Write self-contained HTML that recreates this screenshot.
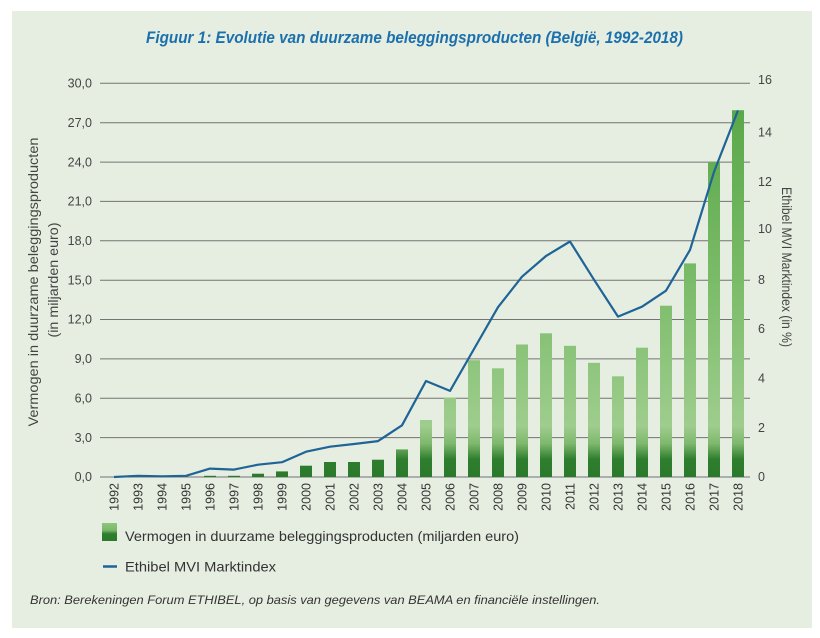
<!DOCTYPE html>
<html>
<head>
<meta charset="utf-8">
<style>
html,body{margin:0;padding:0;background:#ffffff;}
svg{display:block;}
text{font-family:"Liberation Sans",sans-serif;}
</style>
</head>
<body>
<svg width="820" height="638" viewBox="0 0 820 638" xmlns="http://www.w3.org/2000/svg">
<defs>
<linearGradient id="barg" gradientUnits="userSpaceOnUse" x1="0" y1="83" x2="0" y2="477">
<stop offset="0" stop-color="#55a545"/>
<stop offset="0.5" stop-color="#7abb68"/>
<stop offset="0.87" stop-color="#9ecd8d"/>
<stop offset="0.915" stop-color="#7fb86e"/>
<stop offset="0.955" stop-color="#2f7e2f"/>
<stop offset="1" stop-color="#2b792b"/>
</linearGradient>
<linearGradient id="legg" x1="0" y1="0" x2="0" y2="1">
<stop offset="0" stop-color="#8fc57d"/>
<stop offset="0.4" stop-color="#7ab868"/>
<stop offset="0.6" stop-color="#2f7e2f"/>
<stop offset="1" stop-color="#2b792b"/>
</linearGradient>
</defs>
<rect x="12" y="11" width="800" height="617" fill="#e6eee1"/>

<!-- Title -->
<text x="146" y="43" font-size="17" font-weight="bold" font-style="italic" fill="#1c70ad" textLength="537" lengthAdjust="spacingAndGlyphs">Figuur 1: Evolutie van duurzame beleggingsproducten (België, 1992-2018)</text>

<!-- gridlines -->
<g stroke="#737373" stroke-width="1">
<line x1="100" y1="83.3" x2="750" y2="83.3"/>
<line x1="100" y1="122.7" x2="750" y2="122.7"/>
<line x1="100" y1="162.1" x2="750" y2="162.1"/>
<line x1="100" y1="201.4" x2="750" y2="201.4"/>
<line x1="100" y1="240.8" x2="750" y2="240.8"/>
<line x1="100" y1="280.2" x2="750" y2="280.2"/>
<line x1="100" y1="319.5" x2="750" y2="319.5"/>
<line x1="100" y1="358.9" x2="750" y2="358.9"/>
<line x1="100" y1="398.3" x2="750" y2="398.3"/>
<line x1="100" y1="437.6" x2="750" y2="437.6"/>
<line x1="100" y1="477" x2="750" y2="477"/>
</g>

<!-- left tick labels -->
<g font-size="12.5" fill="#444" text-anchor="end">
<text x="92" y="87.5">30,0</text>
<text x="92" y="126.9">27,0</text>
<text x="92" y="166.3">24,0</text>
<text x="92" y="205.6">21,0</text>
<text x="92" y="245">18,0</text>
<text x="92" y="284.4">15,0</text>
<text x="92" y="323.7">12,0</text>
<text x="92" y="363.1">9,0</text>
<text x="92" y="402.5">6,0</text>
<text x="92" y="441.8">3,0</text>
<text x="92" y="481.2">0,0</text>
</g>

<!-- right tick labels -->
<g font-size="12.5" fill="#444" text-anchor="start">
<text x="758" y="84">16</text>
<text x="758" y="136.6">14</text>
<text x="758" y="185.8">12</text>
<text x="758" y="233">10</text>
<text x="758" y="284">8</text>
<text x="758" y="333">6</text>
<text x="758" y="382.6">4</text>
<text x="758" y="431.8">2</text>
<text x="758" y="481">0</text>
</g>

<!-- bars -->
<g fill="url(#barg)">
<rect x="204" y="475.8" width="12" height="1.2"/>
<rect x="228" y="475.8" width="12" height="1.2"/>
<rect x="252" y="473.7" width="12" height="3.3"/>
<rect x="276" y="471.4" width="12" height="5.6"/>
<rect x="300" y="465.7" width="12" height="11.3"/>
<rect x="324" y="462" width="12" height="15"/>
<rect x="348" y="462" width="12" height="15"/>
<rect x="372" y="459.7" width="12" height="17.3"/>
<rect x="396" y="449.4" width="12" height="27.6"/>
<rect x="420" y="420" width="12" height="57"/>
<rect x="444" y="397.6" width="12" height="79.4"/>
<rect x="468" y="360.2" width="12" height="116.8"/>
<rect x="492" y="368.3" width="12" height="108.7"/>
<rect x="516" y="344.5" width="12" height="132.5"/>
<rect x="540" y="333.3" width="12" height="143.7"/>
<rect x="564" y="345.8" width="12" height="131.2"/>
<rect x="588" y="362.8" width="12" height="114.2"/>
<rect x="612" y="376.3" width="12" height="100.7"/>
<rect x="636" y="347.7" width="12" height="129.3"/>
<rect x="660" y="305.7" width="12" height="171.3"/>
<rect x="684" y="263.4" width="12" height="213.6"/>
<rect x="708" y="162" width="12" height="315"/>
<rect x="732" y="110.2" width="12" height="366.8"/>
</g>

<!-- line -->
<polyline fill="none" stroke="#1f6496" stroke-width="2.2" stroke-linejoin="round"
points="114,477 138,475.8 162,476.3 186,475.8 210,468.6 234,469.6 258,464.7 282,462.2 306,451.7 330,446.7 354,444 378,441.1 402,425.3 426,381 450,390.9 474,349 498,307.2 522,276.7 546,256 570,241.5 594,279.7 618,316.6 642,306.7 666,290.7 690,249.9 714,171.9 738,110.4"/>

<!-- year labels -->
<g font-size="12.5" fill="#333" text-anchor="end">
<text transform="translate(114,483) rotate(-90)" dy="0.36em">1992</text>
<text transform="translate(138,483) rotate(-90)" dy="0.36em">1993</text>
<text transform="translate(162,483) rotate(-90)" dy="0.36em">1994</text>
<text transform="translate(186,483) rotate(-90)" dy="0.36em">1995</text>
<text transform="translate(210,483) rotate(-90)" dy="0.36em">1996</text>
<text transform="translate(234,483) rotate(-90)" dy="0.36em">1997</text>
<text transform="translate(258,483) rotate(-90)" dy="0.36em">1998</text>
<text transform="translate(282,483) rotate(-90)" dy="0.36em">1999</text>
<text transform="translate(306,483) rotate(-90)" dy="0.36em">2000</text>
<text transform="translate(330,483) rotate(-90)" dy="0.36em">2001</text>
<text transform="translate(354,483) rotate(-90)" dy="0.36em">2002</text>
<text transform="translate(378,483) rotate(-90)" dy="0.36em">2003</text>
<text transform="translate(402,483) rotate(-90)" dy="0.36em">2004</text>
<text transform="translate(426,483) rotate(-90)" dy="0.36em">2005</text>
<text transform="translate(450,483) rotate(-90)" dy="0.36em">2006</text>
<text transform="translate(474,483) rotate(-90)" dy="0.36em">2007</text>
<text transform="translate(498,483) rotate(-90)" dy="0.36em">2008</text>
<text transform="translate(522,483) rotate(-90)" dy="0.36em">2009</text>
<text transform="translate(546,483) rotate(-90)" dy="0.36em">2010</text>
<text transform="translate(570,483) rotate(-90)" dy="0.36em">2011</text>
<text transform="translate(594,483) rotate(-90)" dy="0.36em">2012</text>
<text transform="translate(618,483) rotate(-90)" dy="0.36em">2013</text>
<text transform="translate(642,483) rotate(-90)" dy="0.36em">2014</text>
<text transform="translate(666,483) rotate(-90)" dy="0.36em">2015</text>
<text transform="translate(690,483) rotate(-90)" dy="0.36em">2016</text>
<text transform="translate(714,483) rotate(-90)" dy="0.36em">2017</text>
<text transform="translate(738,483) rotate(-90)" dy="0.36em">2018</text>
</g>

<!-- axis titles -->
<g font-size="14" fill="#444" text-anchor="middle">
<text transform="translate(33,282) rotate(-90)" dy="0.35em" textLength="289" lengthAdjust="spacingAndGlyphs">Vermogen in duurzame beleggingsproducten</text>
<text transform="translate(53,280) rotate(-90)" dy="0.35em" textLength="115" lengthAdjust="spacingAndGlyphs">(in miljarden euro)</text>
<text transform="translate(787,267) rotate(90)" dy="0.35em" textLength="160" lengthAdjust="spacingAndGlyphs">Ethibel MVI Marktindex (in %)</text>
</g>

<!-- legend -->
<rect x="102" y="523" width="15" height="18" fill="url(#legg)"/>
<text x="125" y="541" font-size="14" fill="#333" textLength="394" lengthAdjust="spacingAndGlyphs">Vermogen in duurzame beleggingsproducten (miljarden euro)</text>
<line x1="103" y1="566.5" x2="117" y2="566.5" stroke="#1f6496" stroke-width="2.5"/>
<text x="125" y="571.5" font-size="14" fill="#333" textLength="151" lengthAdjust="spacingAndGlyphs">Ethibel MVI Marktindex</text>

<!-- source -->
<text x="30" y="604" font-size="12" font-style="italic" fill="#333" textLength="570" lengthAdjust="spacingAndGlyphs">Bron: Berekeningen Forum ETHIBEL, op basis van gegevens van BEAMA en financiële instellingen.</text>
</svg>
</body>
</html>
